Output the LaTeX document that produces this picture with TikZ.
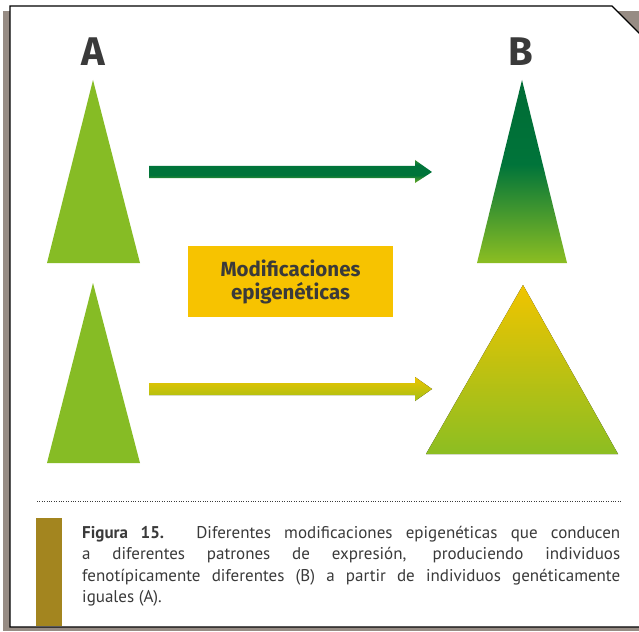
\documentclass[tikz,border=0pt]{standalone}
\usepackage{fontspec}
\setmainfont{Fira Sans}
\newfontfamily\capfont{PT Sans}
\definecolor{shadowc}{HTML}{978C84}
\definecolor{leafA}{HTML}{86BC25}
\definecolor{darkG}{HTML}{006C35}
\definecolor{midG}{HTML}{00743A}
\definecolor{lightG}{HTML}{8CBE22}
\definecolor{yelT}{HTML}{F0C400}
\definecolor{yelM}{HTML}{C8C200}
\definecolor{boxY}{HTML}{F7C300}
\definecolor{barC}{HTML}{A3851F}
\definecolor{txtC}{HTML}{3A3A3A}
\pgfdeclareverticalshading{greenB}{100bp}{color(0bp)=(lightG); color(25bp)=(lightG); color(52bp)=(midG); color(75bp)=(darkG); color(100bp)=(darkG)}
\pgfdeclareverticalshading{greenArrow}{100bp}{color(0bp)=(lightG!80!midG); color(25bp)=(lightG!80!midG); color(42bp)=(midG); color(65bp)=(midG); color(75bp)=(darkG!60!lightG); color(100bp)=(darkG!60!lightG)}
\begin{document}
\begin{tikzpicture}[x=1pt,y=-1pt,
  lbl/.style={font=\bfseries\fontsize{40}{44}\selectfont, text=txtC, inner sep=0},
  boxtxt/.style={font=\bfseries\fontsize{20.5}{23}\selectfont, text=txtC, align=center, inner sep=0},
  caption/.style={font=\capfont\fontsize{17}{21.3}\selectfont, text=txtC, text width=538pt, align=justify, inner sep=0, anchor=north west}]
\useasboundingbox (0,0) rectangle (639,631);
\begin{scope}
\clip (0,0) rectangle (639,631);
% frame
\fill[shadowc] (3,11) rectangle (660,631);
\filldraw[fill=white, draw=black, line width=1.3pt] (10,627) -- (10,6) -- (612,6) -- (650,44) -- (650,627) -- cycle;
\end{scope}
% labels
\node[lbl] (A) at (93,52) {A};
\node[lbl] (B) at (521,52) {B};
% triangles
\coordinate (a1) at (93,80);
\coordinate (a2) at (93,283);
\coordinate (b1) at (522,80);
\coordinate (b2) at (523,285);
\fill[leafA] (a1) -- (47,263) -- (140,263) -- cycle;
\fill[leafA] (a2) -- (47,463) -- (140,463) -- cycle;
\shade[shading=greenB] (b1) -- (477,263) -- (567,263) -- cycle;
\fill[top color=yelT, middle color=yelM, bottom color=lightG] (b2) -- (426,454) -- (618,454) -- cycle;
% arrows
\shade[shading=greenArrow]
  (149,166) -- (415,166) -- (415,160) -- (432,172) -- (415,183) -- (415,178) -- (149,178) -- cycle;
\fill[top color=yelT!90!yelM, middle color=yelM, bottom color=yelM!40!lightG]
  (149,383) -- (415,383) -- (415,377) -- (432,389) -- (415,401) -- (415,395) -- (149,395) -- cycle;
% box
\fill[boxY] (188,246) rectangle (393,317);
\node[boxtxt] (mod) at (290.5,281.5) {Modificaciones\\epigenéticas};
% dotted line
\coordinate (d1) at (37,501);
\coordinate (d2) at (622,501);
\draw[txtC, line width=0.8pt, dash pattern=on 0.8pt off 1.6pt] (d1) -- (d2);
% caption bar
\fill[barC] (36,518) rectangle (62,626.3);
\node[caption] (cap) at (82,526) {\textbf{Figura 15.} Diferentes modificaciones epigenéticas que conducen\linebreak a diferentes patrones de expresión, produciendo individuos\linebreak fenotípicamente diferentes (B) a partir de individuos genéticamente\linebreak iguales (A).};
\end{tikzpicture}
\end{document}
